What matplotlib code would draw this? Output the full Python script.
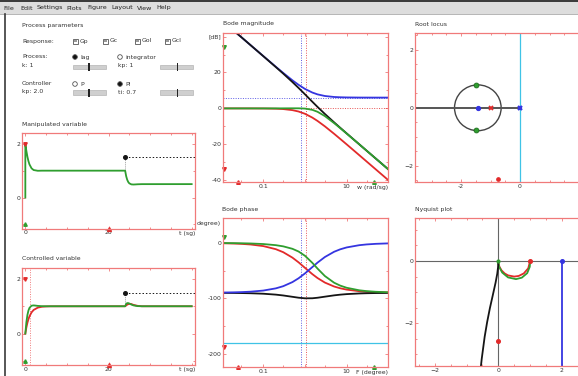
import matplotlib
matplotlib.use('Agg')
import matplotlib.pyplot as plt
from matplotlib.patches import Rectangle, Circle
from matplotlib.ticker import FixedLocator, MultipleLocator, NullFormatter

# ---------------- data ----------------
menu_items = ["File", "Edit", "Settings", "Plots", "Figure", "Layout", "View", "Help"]
menu_x = [3, 20, 37, 66, 87, 111, 137, 156]

response_labels = ["Gp", "Gc", "Gol", "Gcl"]

# time responses
t_u = [0, 0, 0.25, 0.5, 0.75, 1, 1.5, 2, 3, 4, 24, 24.25, 24.5, 24.75, 25, 25.5, 26, 26.5, 27, 28, 40]
u_gcl = [0, 2, 1.735, 1.519, 1.353, 1.231, 1.086, 1.023, 0.996, 1.0, 1.0, 0.794, 0.661, 0.578,
         0.529, 0.490, 0.485, 0.489, 0.494, 0.499, 0.5]

t_y = [0, 0.25, 0.5, 0.75, 1, 1.5, 2, 2.5, 3, 4, 5, 24, 24.25, 24.5, 24.75, 25, 25.5, 26, 27, 28, 40]
y_gcl = [0, 0.412, 0.679, 0.844, 0.942, 1.021, 1.031, 1.023, 1.013, 1.003, 1.0, 1.0, 1.086, 1.115,
         1.115, 1.100, 1.062, 1.032, 1.005, 1.0, 1.0]
t_yp = [0, 0.25, 0.5, 0.75, 1, 1.5, 2, 3, 4, 5, 6, 24, 24.5, 25, 25.5, 26, 27, 28, 40]
y_gp = [0, 0.221, 0.393, 0.528, 0.632, 0.777, 0.865, 0.950, 0.982, 0.993, 0.998, 1.0, 1.06, 1.09,
        1.08, 1.05, 1.015, 1.0, 1.0]
dist_t = 24
dist_level = 1.5
dist_base = 1.0

# Bode
w = [0.01, 0.02, 0.03, 0.05, 0.1, 0.2, 0.3, 0.5, 0.7, 1, 1.5, 2, 3, 5, 7, 10, 20, 30, 50, 100]
mag_gp = [0, 0, 0, -0.01, -0.04, -0.17, -0.37, -0.97, -1.73, -3.01, -5.12, -6.99, -10.0, -14.15,
          -17.0, -20.04, -26.03, -29.55, -33.98, -40.0]
mag_gc = [49.1, 43.1, 39.6, 35.15, 29.14, 23.18, 19.77, 15.64, 13.15, 10.85, 8.83, 7.81, 6.91, 6.36,
          6.20, 6.11, 6.04, 6.03, 6.02, 6.02]
mag_gol = [49.1, 43.1, 39.6, 35.14, 29.10, 23.01, 19.40, 14.67, 11.42, 7.84, 3.71, 0.82, -3.09, -7.79,
           -10.8, -13.93, -19.99, -23.52, -27.96, -33.98]
mag_gcl = [0, 0, 0, 0, 0, 0.015, 0.03, 0.055, 0.05, -0.1, -0.80, -1.89, -4.29, -8.2, -11.0, -14.05,
           -20.0, -23.53, -27.96, -33.98]
ph_gp = [-0.57, -1.15, -1.72, -2.86, -5.71, -11.31, -16.70, -26.57, -34.99, -45, -56.31, -63.43, -71.57,
         -78.69, -81.87, -84.29, -87.14, -88.09, -88.85, -89.43]
ph_gc = [-89.6, -89.2, -88.8, -88.0, -86.0, -82.03, -78.14, -70.71, -63.89, -55.01, -43.60, -35.54,
         -25.46, -15.95, -11.54, -8.13, -4.09, -2.73, -1.64, -0.82]
ph_gol = [-90.17, -90.35, -90.52, -90.86, -91.71, -93.34, -94.84, -97.28, -98.88, -100.01, -99.91,
          -98.97, -97.03, -94.64, -93.41, -92.42, -91.23, -90.82, -90.49, -90.25]
ph_gcl = [-0.2, -0.4, -0.6, -1.0, -2.01, -4.05, -6.16, -10.63, -15.47, -23.25, -35.92, -46.33, -59.77,
          -71.83, -77.06, -80.97, -85.50, -87.0, -88.2, -89.1]
w_marks = [0.8, 1.05]
gain_marks = [6.02, 0]
phase_ref = -180

# root locus
rl_zero = -1.43
rl_poles = [0, -1]
rl_cl_re = [-1.5, -1.5]
rl_cl_im = [0.78, -0.78]
rl_radius = 0.79

# Nyquist
nq_gp_re = [1, 0.941, 0.8, 0.64, 0.5, 0.308, 0.2, 0.1, 0.0385, 0.0099, 0.0011, 0]
nq_gp_im = [0, -0.235, -0.4, -0.48, -0.5, -0.462, -0.4, -0.3, -0.192, -0.099, -0.033, 0]
nq_gcl_re = [1, 0.989, 0.908, 0.739, 0.556, 0.307, 0.121, 0.031, 0.008, 0.001, 0]
nq_gcl_im = [0, -0.186, -0.390, -0.535, -0.582, -0.527, -0.370, -0.196, -0.0996, -0.04, 0]
nq_gol_re = [-0.549, -0.523, -0.429, -0.351, -0.264, -0.171, -0.086, -0.033, -0.0085, -0.001, 0]
nq_gol_im = [-3.398, -3.15, -2.429, -1.959, -1.509, -1.086, -0.695, -0.407, -0.201, -0.067, 0]
nq_gc_re = [2, 2]
nq_gc_im = [0, -4]

# ---------------- style ----------------
W, H = 578, 376
GREEN = '#2f9e2f'
RED = '#e22a2a'
BLUE = '#3535e0'
BLACK = '#151515'
CYAN = '#3fc3e6'
BORDER = '#f07a7a'
TXT = '#333333'
FS = 4.4

fig = plt.figure(figsize=(W / 100, H / 100), dpi=100)
fig.patch.set_facecolor('white')

bg = fig.add_axes([0, 0, 1, 1], zorder=-5)
bg.set_xlim(0, W)
bg.set_ylim(H, 0)
bg.axis('off')


def add_ax(x0, y0, x1, y1):
    return fig.add_axes([x0 / W, 1 - y1 / H, (x1 - x0) / W, (y1 - y0) / H])


def style(ax):
    for s in ax.spines.values():
        s.set_color(BORDER)
        s.set_linewidth(0.9)
    ax.tick_params(which='both', direction='in', color=BORDER, labelsize=FS, labelcolor=TXT,
                   length=2, width=0.6, pad=1.2, top=True, right=True)
    ax.tick_params(which='minor', length=1.5)


# menu bar
bg.add_patch(Rectangle((0, 0), W, 14, fc='#dddddd', ec='none'))
bg.add_patch(Rectangle((0, 0), W, 2, fc='#3c3c3c', ec='none'))
bg.plot([0, W], [14, 14], color='#a9a9a9', lw=0.6)
for name, x in zip(menu_items, menu_x):
    bg.text(x, 8, name, fontsize=4.6, va='center', color='#222')
# window left edge
bg.plot([5, 5], [14, H], color='#3a3a3a', lw=1.2)

# ---------- process parameters panel ----------
def label(x, y, s, **kw):
    bg.text(x, y, s, fontsize=FS, va='center', color=TXT, **kw)


label(22, 25, "Process parameters")
label(22, 41, "Response:")
for lab, x in zip(response_labels, [73, 103, 135, 165]):
    bg.add_patch(Rectangle((x, 38.5), 5, 5, fc='white', ec='#555', lw=0.6))
    bg.add_patch(Rectangle((x + 1.3, 39.8), 2.4, 2.4, fc='#999', ec='none'))
    label(x + 7, 41, lab)

label(22, 57, "Process:")
label(22, 65.5, "k: 1")
label(22, 83.5, "Controller")
label(22, 92, "kp: 2.0")


def radio(x, y, filled, text):
    bg.add_patch(Circle((x, y), 2.3, fc='#111' if filled else 'white', ec='#555', lw=0.6))
    label(x + 5, y, text)


radio(75, 57, True, "lag")
radio(120, 57, False, "integrator")
label(118, 65.5, "kp: 1")
radio(75, 84, False, "P")
radio(120, 84, True, "PI")
label(118, 92, "ti: 0.7")


def slider(x0, x1, y, tx):
    bg.add_patch(Rectangle((x0, y - 2.3), x1 - x0, 4.6, fc='#cfcfcf', ec='#b5b5b5', lw=0.5))
    bg.add_patch(Rectangle((tx - 0.8, y - 4), 1.6, 8, fc='#222', ec='none'))


slider(73, 106, 67, 89)
slider(160, 193, 67, 177.5)
slider(73, 106, 92.5, 89)
slider(160, 193, 92.5, 177.5)

# ---------- titles ----------
label(22, 124.5, "Manipulated variable")
label(22, 259, "Controlled variable")
label(223, 24, "Bode magnitude")
label(222, 209, "Bode phase")
label(415, 24, "Root locus")
label(415, 209, "Nyquist plot")

# ---------- time plots ----------
def time_plot(ax):
    style(ax)
    ax.set_xlim(-0.8, 40.8)
    ax.set_ylim(-1.15, 2.4)
    ax.xaxis.set_major_locator(FixedLocator([0, 20]))
    ax.xaxis.set_minor_locator(MultipleLocator(5))
    ax.yaxis.set_major_locator(FixedLocator([0, 2]))
    ax.yaxis.set_minor_locator(FixedLocator([-1, 1]))
    ax.text(1.0, -0.025, "t (sg)", transform=ax.transAxes, ha='right', va='top', fontsize=FS, color=TXT)
    ax.plot([dist_t, 40.8], [dist_level, dist_level], color=BLACK, lw=0.7, ls=(0, (1.5, 2)))
    ax.plot([dist_t, dist_t], [dist_base, dist_level], color='#777', lw=0.6, ls=(0, (1, 1.5)))
    ax.plot([dist_t], [dist_level], 'o', color=BLACK, ms=2.6, zorder=5)


ax_u = add_ax(22, 133, 195, 228.5)
time_plot(ax_u)
ax_u.plot(t_u, u_gcl, color=GREEN, lw=1.3)
ax_u.plot([0], [2], 'v', color=RED, ms=2.5, clip_on=False)
ax_u.plot([0], [-1], '^', color=GREEN, ms=2.5, clip_on=False)
ax_u.plot([20], [-1.15], '^', color=RED, ms=2.8, clip_on=False)

ax_y = add_ax(22, 268, 195, 365)
time_plot(ax_y)
ax_y.axvline(1.2, color=BORDER, lw=0.7, ls=(0, (1, 1.5)))
ax_y.plot(t_yp, y_gp, color=RED, lw=1.3)
ax_y.plot(t_y, y_gcl, color=GREEN, lw=1.3)
ax_y.plot([0], [2], 'v', color=RED, ms=2.5, clip_on=False)
ax_y.plot([0], [-1], '^', color=GREEN, ms=2.5, clip_on=False)
ax_y.plot([20], [-1.15], '^', color=RED, ms=2.8, clip_on=False)

# ---------- Bode ----------
def bode_style(ax, xlabel):
    style(ax)
    ax.set_xscale('log')
    ax.set_xlim(0.0108, 98)
    ax.xaxis.set_major_locator(FixedLocator([0.01, 0.1, 1, 10, 100]))
    ax.xaxis.set_minor_locator(FixedLocator([0.03, 0.3, 3, 30]))
    ax.xaxis.set_minor_formatter(NullFormatter())
    ax.set_xticklabels(['', '0.1', '', '10', ''])
    ax.text(1.0, -0.018, xlabel, transform=ax.transAxes, ha='right', va='top', fontsize=FS, color=TXT)
    ax.axvline(w_marks[0], color=BLUE, lw=0.7, ls=(0, (1, 1.5)), alpha=0.8)
    ax.axvline(w_marks[1], color=RED, lw=0.7, ls=(0, (1, 1.5)), alpha=0.8)


ax_m = add_ax(223, 33, 388, 182)
bode_style(ax_m, "w (rad/sg)")
ax_m.set_ylim(-41, 42)
ax_m.yaxis.set_major_locator(FixedLocator([40, 20, 0, -20, -40]))
ax_m.set_yticklabels(['[dB]', '20', '0', '-20', '-40'])
ax_m.yaxis.set_minor_locator(MultipleLocator(10))
ax_m.axhline(gain_marks[0], color=BLUE, lw=0.7, ls=(0, (1, 1.5)), alpha=0.8)
ax_m.axhline(gain_marks[1], color=RED, lw=0.7, ls=(0, (1, 1.5)), alpha=0.8)
ax_m.plot(w, mag_gp, color=RED, lw=1.3)
ax_m.plot(w, mag_gc, color=BLUE, lw=1.3)
ax_m.plot(w, mag_gol, color=BLACK, lw=1.3)
ax_m.plot(w, mag_gcl, color=GREEN, lw=1.3)
ax_m.plot([0.0116], [34], 'v', color=GREEN, ms=2.6, clip_on=False)
ax_m.plot([0.0116], [-34], 'v', color=RED, ms=2.6, clip_on=False)
ax_m.plot([0.0243], [-41], '^', color=RED, ms=2.6, clip_on=False)
ax_m.plot([45], [-41], '^', color=GREEN, ms=2.6, clip_on=False)

ax_p = add_ax(223, 218, 388, 367)
bode_style(ax_p, "F (degree)")
ax_p.set_ylim(-224, 45)
ax_p.yaxis.set_major_locator(FixedLocator([0, -100, -200]))
ax_p.yaxis.set_minor_locator(MultipleLocator(50))
ax_p.set_yticklabels(['0', '-100', '-200'])
bg.text(221, 223, "degree)", fontsize=FS, ha='right', va='center', color=TXT)
ax_p.axhline(phase_ref, color=CYAN, lw=0.9)
ax_p.plot(w, ph_gp, color=RED, lw=1.3)
ax_p.plot(w, ph_gol, color=BLACK, lw=1.3)
ax_p.plot(w, ph_gc, color=BLUE, lw=1.3)
ax_p.plot(w, ph_gcl, color=GREEN, lw=1.3)
ax_p.plot([0.0116], [11], 'v', color=GREEN, ms=2.6, clip_on=False)
ax_p.plot([0.0116], [-188], 'v', color=RED, ms=2.6, clip_on=False)
ax_p.plot([0.0243], [-224], '^', color=RED, ms=2.6, clip_on=False)
ax_p.plot([45], [-224], '^', color=GREEN, ms=2.6, clip_on=False)

# ---------- Root locus ----------
ax_r = add_ax(415, 33, 415 + 7.06 * 29.5, 182)
style(ax_r)
ax_r.set_xlim(-3.56, 3.5)
ax_r.set_ylim(-2.56, 2.58)
ax_r.xaxis.set_major_locator(FixedLocator([-2, 0, 2]))
ax_r.set_xticklabels(['-2', '0', ''])
ax_r.xaxis.set_minor_locator(MultipleLocator(0.5))
ax_r.yaxis.set_major_locator(FixedLocator([-2, 0, 2]))
ax_r.yaxis.set_minor_locator(MultipleLocator(0.5))
ax_r.axvline(0, color=CYAN, lw=0.9)
ax_r.plot([-3.56, 0], [0, 0], color='#555', lw=1.4)
ax_r.add_patch(Circle((rl_zero, 0), rl_radius, fill=False, ec='#444', lw=1.0))
ax_r.plot([rl_zero], [0], 'o', color=BLUE, ms=2.8)
ax_r.plot([rl_poles[1]], [0], 'x', color=RED, ms=3.5, mew=1.3)
ax_r.plot([rl_poles[0]], [0], 'x', color=BLUE, ms=3.5, mew=1.6)
ax_r.plot(rl_cl_re, rl_cl_im, 'o', color=GREEN, mec='#1d6e1d', ms=3.5, mew=0.6, ls='none')
ax_r.plot([-0.75], [-2.46], 'o', color=RED, ms=2.4)

# ---------- Nyquist ----------
ax_n = add_ax(415, 218, 415 + 5.62 * 31.8, 366)
style(ax_n)
ax_n.set_xlim(-2.62, 3.0)
ax_n.set_ylim(-3.37, 1.38)
ax_n.xaxis.set_major_locator(FixedLocator([-2, 0, 2]))
ax_n.xaxis.set_minor_locator(MultipleLocator(0.5))
ax_n.yaxis.set_major_locator(FixedLocator([-2, 0]))
ax_n.yaxis.set_minor_locator(MultipleLocator(0.5))
ax_n.axhline(0, color='#666', lw=0.8)
ax_n.axvline(0, color='#666', lw=0.8)
ax_n.plot(nq_gp_re, nq_gp_im, color=RED, lw=1.3)
ax_n.plot(nq_gcl_re, nq_gcl_im, color=GREEN, lw=1.3)
ax_n.plot(nq_gol_re, nq_gol_im, color=BLACK, lw=1.3)
ax_n.plot(nq_gc_re, nq_gc_im, color=BLUE, lw=1.3)
ax_n.plot([1], [0], 'o', color=RED, ms=2.6)
ax_n.plot([2], [0], 'o', color=BLUE, ms=2.6)
ax_n.plot([0], [0], 'o', color=GREEN, ms=2.0)
ax_n.plot([0], [-2.58], 'o', color=RED, ms=2.6)

fig.savefig('out.png', dpi=100)
